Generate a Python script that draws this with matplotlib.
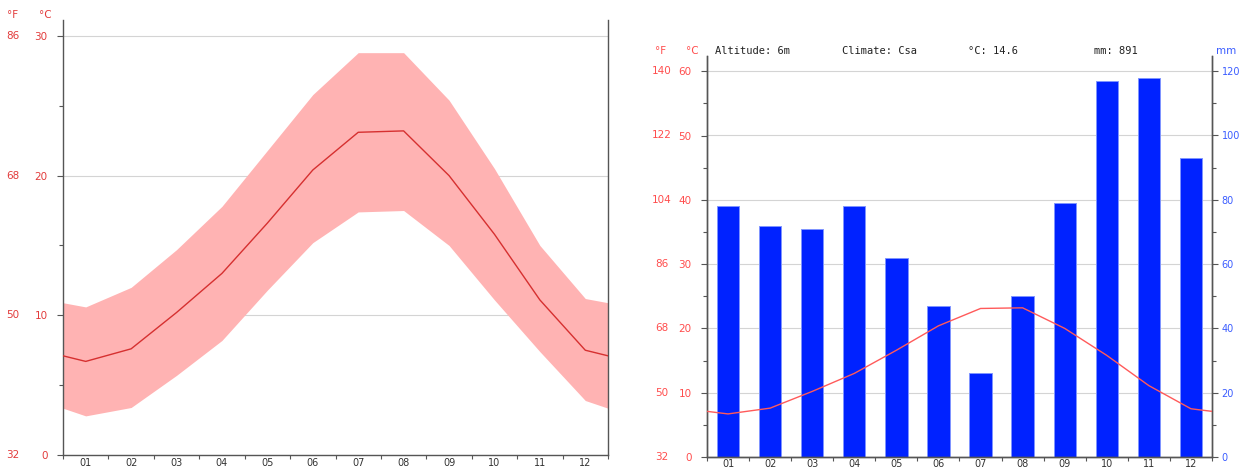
import numpy as np
import matplotlib
matplotlib.use("Agg")
import matplotlib.pyplot as plt
from matplotlib.transforms import blended_transform_factory

# Monthly climate data
months = ["01", "02", "03", "04", "05", "06", "07", "08", "09", "10", "11", "12"]
temp_mean = [6.7, 7.6, 10.2, 13.0, 16.6, 20.4, 23.1, 23.2, 20.0, 15.8, 11.1, 7.5]
temp_max = [10.6, 12.0, 14.7, 17.8, 21.8, 25.8, 28.8, 28.8, 25.4, 20.5, 15.0, 11.2]
temp_min = [2.8, 3.4, 5.7, 8.2, 11.8, 15.2, 17.4, 17.5, 15.0, 11.1, 7.4, 3.9]
precip_mm = [78, 72, 71, 78, 62, 47, 26, 50, 79, 117, 118, 93]

altitude = "6m"
climate = "Csa"

W, H = 1242, 468
RED = "#e23b3b"
RED_LIGHT = "#ff4d4d"
BLUE_TXT = "#3a5cff"
GRID = "#d4d4d4"
SPINE = "#555555"
TXT = "#333333"
FS = 7.5


def wrap(values):
    """Close the yearly cycle: add Dec/Jan midpoints at both ends of the year."""
    v = np.asarray(values, dtype=float)
    edge = (v[0] + v[-1]) / 2.0
    return np.concatenate([[edge], v, [edge]])


xs = np.concatenate([[0.0], np.arange(12) + 0.5, [12.0]])

fig = plt.figure(figsize=(W / 100, H / 100), dpi=100)
fig.patch.set_facecolor("white")


def fx(px):
    return px / W


def fy(py):
    return 1 - py / H


def style_month_axis(ax, pad):
    ax.set_xlim(0, 12)
    ax.set_xticks(np.arange(13))
    ax.set_xticklabels([])
    ax.set_xticks(np.arange(12) + 0.5, minor=True)
    ax.set_xticklabels(months, minor=True)
    ax.tick_params(axis="x", which="major", length=3, width=0.8, color=SPINE, direction="out")
    ax.tick_params(axis="x", which="minor", length=0, labelsize=7, labelcolor=TXT, pad=pad)


# ---------------- Left: temperature range chart ----------------
ax1 = fig.add_axes([fx(63), fy(455), fx(608 - 63), (455 - 20) / H])
ax1.fill_between(xs, wrap(temp_min), wrap(temp_max), color="#ffb3b3", lw=0, zorder=2)
ax1.plot(xs, wrap(temp_mean), color="#d63030", lw=1.0, zorder=3)
ax1.set_ylim(0, (455 - 20) / 13.97)
style_month_axis(ax1, 2.0)

c_ticks1 = [0, 10, 20, 30]
ax1.set_yticks(c_ticks1)
ax1.set_yticklabels([str(c) for c in c_ticks1])
ax1.set_yticks([5, 15, 25], minor=True)
ax1.tick_params(axis="y", which="major", length=4, width=0.8, color=SPINE,
                labelsize=FS, labelcolor=RED, pad=7)
ax1.tick_params(axis="y", which="minor", length=3, width=0.8, color=SPINE)
ax1.grid(axis="y", which="major", color=GRID, lw=0.8, zorder=1)
ax1.set_axisbelow(True)
ax1.spines["top"].set_visible(False)
for s in ["left", "bottom", "right"]:
    ax1.spines[s].set_color(SPINE)
    ax1.spines[s].set_linewidth(1.0)

tr1 = blended_transform_factory(ax1.transAxes, ax1.transData)
for c in c_ticks1:
    ax1.text((13 - 63) / 545, c, str(round(c * 9 / 5 + 32)), transform=tr1,
             ha="center", va="center", fontsize=FS, color=RED)
fig.text(fx(13), fy(15), "°F", ha="center", va="center", fontsize=FS, color=RED)
fig.text(fx(45), fy(15), "°C", ha="center", va="center", fontsize=FS, color=RED)

# ---------------- Right: climograph ----------------
ax2 = fig.add_axes([fx(707), fy(457), fx(1212 - 707), (457 - 56) / H])
ax3 = ax2.twinx()
top_c = (457 - 56) / 6.43
ax2.set_ylim(0, top_c)
ax3.set_ylim(0, top_c * 2)

ax3.bar(np.arange(12) + 0.5, precip_mm, width=0.53, color="#0022ff",
        edgecolor="#7f95ff", linewidth=0.7, zorder=2)
ax2.set_zorder(ax3.get_zorder() + 1)
ax2.patch.set_visible(False)
ax2.plot(xs, wrap(temp_mean), color="#ff5a5a", lw=1.0, zorder=3)

style_month_axis(ax2, 1.2)
ax3.set_xlim(0, 12)

c_ticks2 = [0, 10, 20, 30, 40, 50, 60]
ax2.set_yticks(c_ticks2)
ax2.set_yticklabels([str(c) for c in c_ticks2])
ax2.set_yticks([5, 15, 25, 35, 45, 55], minor=True)
ax2.tick_params(axis="y", which="major", length=4, width=0.8, color=SPINE,
                labelsize=FS, labelcolor=RED_LIGHT, pad=7)
ax2.tick_params(axis="y", which="minor", length=3, width=0.8, color=SPINE)

mm_ticks = [0, 20, 40, 60, 80, 100, 120]
ax3.set_yticks(mm_ticks)
ax3.set_yticklabels([str(m) for m in mm_ticks])
ax3.set_yticks([10, 30, 50, 70, 90, 110], minor=True)
ax3.tick_params(axis="y", which="major", length=4, width=0.8, color=SPINE,
                labelsize=7, labelcolor=BLUE_TXT, pad=3)
ax3.tick_params(axis="y", which="minor", length=3, width=0.8, color=SPINE)
ax3.grid(axis="y", which="major", color=GRID, lw=0.8, zorder=0)
ax3.set_axisbelow(True)

for a in (ax2, ax3):
    a.spines["top"].set_visible(False)
    for s in ["left", "bottom", "right"]:
        a.spines[s].set_color(SPINE)
        a.spines[s].set_linewidth(1.0)

tr2 = blended_transform_factory(ax2.transAxes, ax2.transData)
for c in c_ticks2:
    ax2.text((662 - 707) / 505, c, str(round(c * 9 / 5 + 32)), transform=tr2,
             ha="center", va="center", fontsize=FS, color=RED_LIGHT)
fig.text(fx(661), fy(51), "°F", ha="center", va="center", fontsize=FS, color=RED_LIGHT)
fig.text(fx(692), fy(51), "°C", ha="center", va="center", fontsize=FS, color=RED_LIGHT)
fig.text(fx(1226), fy(51), "mm", ha="center", va="center", fontsize=FS, color=BLUE_TXT)

mean_c = np.mean(temp_mean)
total_mm = sum(precip_mm)
header = [(715, f"Altitude: {altitude}"), (842, f"Climate: {climate}"),
          (968, f"°C: {mean_c:.1f}"), (1094, f"mm: {total_mm}")]
for px, s in header:
    fig.text(fx(px), fy(51), s, ha="left", va="center", fontsize=7.5,
             family="DejaVu Sans Mono", color="#222222")

fig.savefig("out.png", dpi=100, facecolor="white")
